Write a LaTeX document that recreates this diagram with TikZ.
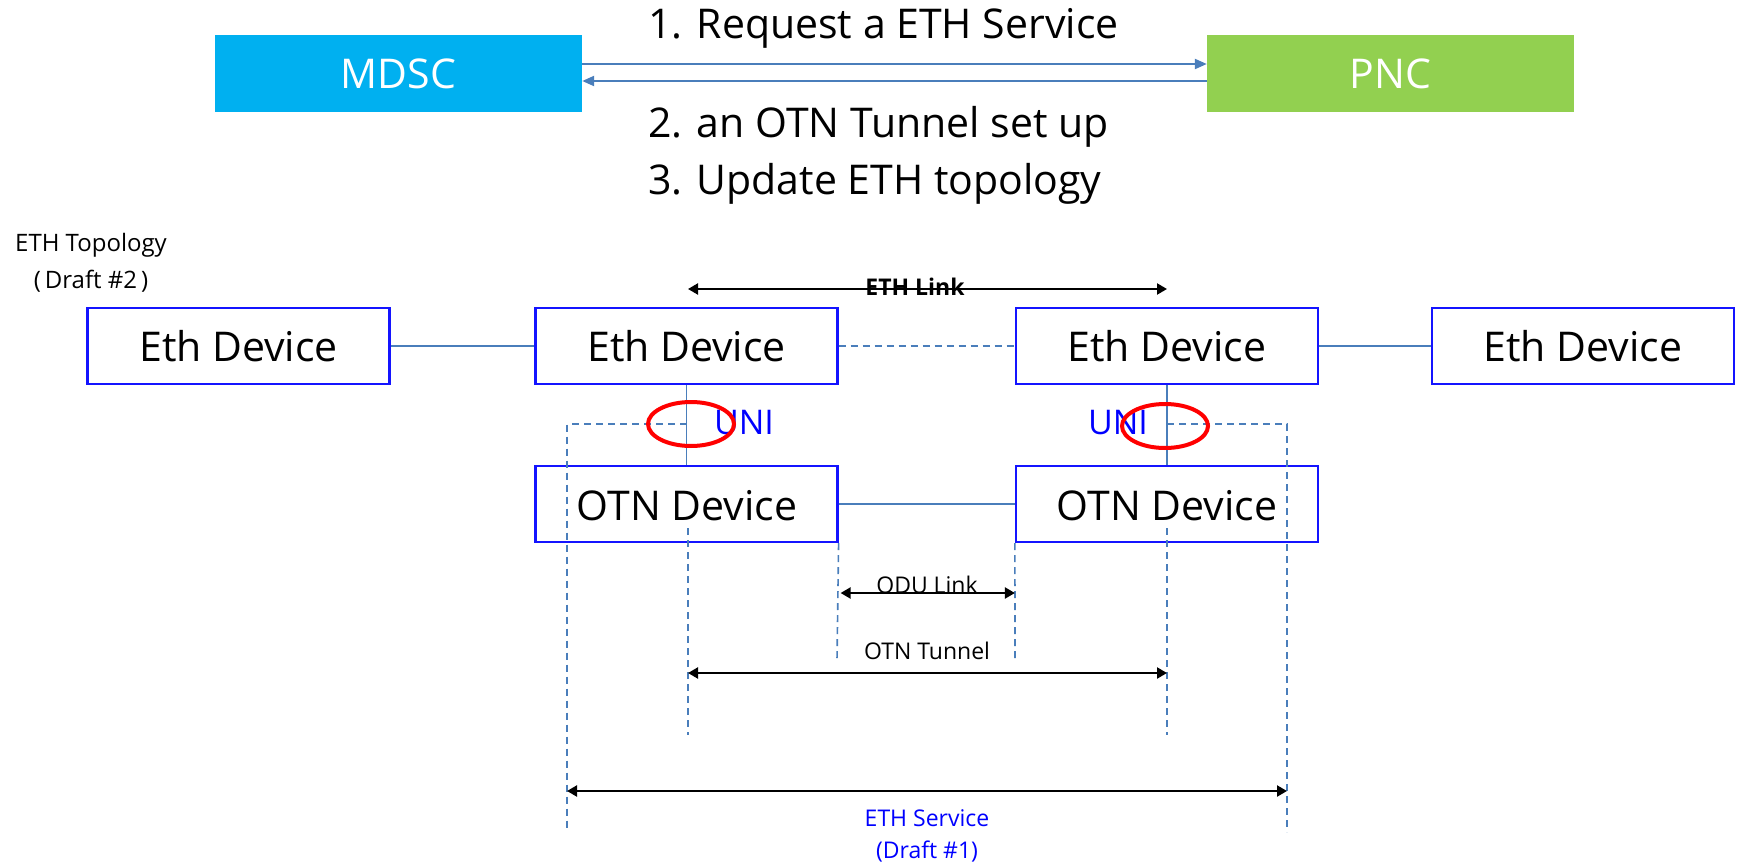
\documentclass[tikz,border=0pt]{standalone}
\usepackage{fontspec}
\setmainfont{Open Sans}
\usetikzlibrary{arrows.meta}
\definecolor{mdscc}{RGB}{0,176,240}
\definecolor{pncc}{RGB}{146,208,80}
\definecolor{linec}{RGB}{74,126,187}
\definecolor{boxc}{RGB}{20,20,255}
\tikzset{
  ctrl/.style={minimum width=367pt, minimum height=77pt, inner sep=0pt, text=white, font=\fontsize{41}{45}\selectfont},
  dev/.style={draw=boxc, line width=2.2pt, fill=white, minimum width=302pt, minimum height=76pt, inner sep=0pt, font=\fontsize{41}{45}\selectfont},
  conn/.style={draw=linec, line width=1.6pt},
  dconn/.style={draw=linec, line width=1.6pt, dash pattern=on 7pt off 5pt},
  msg/.style={draw=linec, line width=2.2pt, -{Triangle[length=12pt,width=10pt]}},
  dimarrow/.style={draw=black, line width=2.2pt, {Triangle[length=10pt,width=11pt]}-{Triangle[length=10pt,width=11pt]}},
  big/.style={font=\fontsize{41}{45}\selectfont, inner sep=0pt},
  small/.style={font=\fontsize{23}{27}\selectfont, inner sep=0pt},
  uni/.style={font=\fontsize{34}{38}\selectfont, text=blue, inner sep=0pt},
  redring/.style={draw=red, line width=4pt}
}
\begin{document}
\begin{tikzpicture}[x=1pt,y=-1pt]
\useasboundingbox (0,0) rectangle (1739,864);
% controllers
\node[ctrl, fill=mdscc] (mdsc) at (398.5,73.5) {MDSC};
\node[ctrl, fill=pncc] (pnc) at (1390.5,73.5) {PNC};
\draw[msg] ([yshift=9.5pt]mdsc.east) -- ([yshift=9.5pt]pnc.west);
\draw[msg] ([yshift=-7.5pt]pnc.west) -- ([yshift=-7.5pt]mdsc.east);
\node[big, anchor=west] (t1) at (648,28) {1. Request a ETH Service};
\node[big, anchor=west] (t2) at (648,127) {2. an OTN Tunnel set up};
\node[big, anchor=west] (t3) at (648,184) {3. Update ETH topology};
% topology label
\node[small, font=\fontsize{24}{28}\selectfont] (topo) at (91,245) {ETH Topology};
\node[small, font=\fontsize{24}{28}\selectfont] (topo2) at (91,281) {(\,Draft \#2\,)};
% coordinates for dashed guides
\coordinate (lh) at (567,424);
\coordinate (lb) at (567,832);
\coordinate (rh) at (1287,424);
\coordinate (rb) at (1287,832);
% devices
\node[dev] (e1) at (238.5,346) {Eth Device};
\node[dev] (e2) at (686.5,346) {Eth Device};
\node[dev] (e3) at (1167,346) {Eth Device};
\node[dev] (e4) at (1583,346) {Eth Device};
\draw[conn] (e1) -- (e2);
\draw[dconn] (e2) -- (e3);
\draw[conn] (e3) -- (e4);
\node[dev] (o1) at (686.5,504) {};
\node[dev] (o2) at (1167,504) {};
\draw[conn] (o1) -- (o2);
\draw[conn] (e2.south) -- (o1.north);
\draw[conn] (e3.south) -- (o2.north);
% dashed guides
\draw[dconn] (e2.south |- lh) -- (lh) -- (lb);
\draw[dconn] (e3.south |- rh) -- (rh) -- (rb);
\node[big] (o1t) at (687,506) {OTN Device};
\node[big] (o2t) at (1167,506) {OTN Device};
\coordinate (g1) at (688,735);
\coordinate (g2) at (1167,735);
\draw[dconn] (688,528) -- (g1);
\draw[dconn] (1167,528) -- (g2);
\coordinate (g3) at (837,660);
\coordinate (g4) at (1015,660);
\draw[dconn] (o1.south east) -- (g3);
\draw[dconn] (o2.south west) -- (g4);
% ETH link
\coordinate (el1) at (688,289);
\coordinate (el2) at (1167,289);
\draw[dimarrow] (el1) -- (el2);
\node[small, font=\fontsize{23}{27}\selectfont\bfseries] (elt) at (915,287) {ETH Link};
% ODU link
\draw[dimarrow] ([xshift=2pt]o1.south east |- 0,593) -- (o2.south west |- 0,593);
\node[small] (odut) at (927,585) {ODU Link};
% OTN tunnel
\node[small] (otnt) at (927,651) {OTN Tunnel};
\draw[dimarrow] (g1 |- 0,673) -- (g2 |- 0,673);
% ETH service
\draw[dimarrow] (lb |- 0,791) -- (rb |- 0,791);
\node[small, text=blue] (est) at (927,818) {ETH Service};
\node[small, text=blue] (est2) at (927,852) {(Draft \#1)};
% UNI
\node[uni] (u1) at (744,423) {UNI};
\node[uni] (u2) at (1118,423) {UNI};
\draw[redring] (691,424) ellipse [x radius=43, y radius=22];
\draw[redring] (1165,426) ellipse [x radius=43, y radius=22];
\end{tikzpicture}
\end{document}
